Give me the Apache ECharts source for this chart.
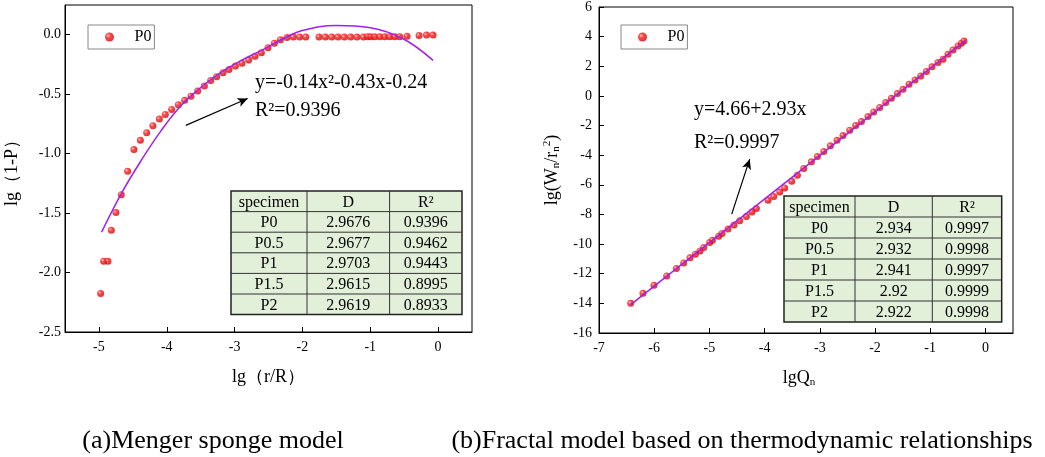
<!DOCTYPE html>
<html>
<head>
<meta charset="utf-8">
<script src="https://cdn.jsdelivr.net/npm/echarts@6/dist/echarts.min.js"></script>
<style>
html,body{margin:0;padding:0;background:#fff}
#chart{width:1045px;height:457px}
</style>
</head>
<body>
<div id="chart"></div>
<script>
// (a) Menger sponge model: lg(r/R) vs lg(1-P)
var menX = [-4.975,-4.93,-4.867,-4.817,-4.749,-4.670,-4.577,-4.484,-4.389,-4.296,-4.204,-4.109,-4.021,-3.928,-3.829,-3.736,-3.643,-3.544,-3.445,-3.352,-3.264,-3.171,-3.083,-2.988,-2.891,-2.792,-2.699,-2.605,-2.507,-2.413,-2.324,-2.227,-2.133,-2.04,-1.95,
  -1.755,-1.661,-1.568,-1.475,-1.381,-1.288,-1.195,-1.100,-1.037,-0.993,-0.934,-0.860,-0.786,-0.713,-0.639,-0.565,-0.457,-0.280,-0.171,-0.074];
var menY = [-2.176,-1.905,-1.905,-1.645,-1.496,-1.345,-1.149,-0.966,-0.888,-0.824,-0.765,-0.709,-0.670,-0.628,-0.588,-0.552,-0.518,-0.474,-0.432,-0.384,-0.353,-0.319,-0.292,-0.264,-0.239,-0.213,-0.180,-0.151,-0.109,-0.071,-0.042,-0.023,-0.020,-0.020,-0.020,
  -0.020,-0.020,-0.020,-0.020,-0.020,-0.020,-0.020,-0.020,-0.017,-0.017,-0.017,-0.017,-0.017,-0.017,-0.017,-0.017,-0.012,-0.006,-0.003,-0.003];
// fitted curve
var menFitX = [-4.96,-4.67,-4.375,-4.08,-3.785,-3.49,-3.195,-2.90,-2.605,-2.31,-2.0,-1.5,-1.0,-0.516,-0.074];
var menFitY = [-1.66,-1.336,-1.056,-0.804,-0.594,-0.44,-0.314,-0.216,-0.132,-0.040,0.036,0.078,0.059,-0.034,-0.216];

// (b) thermodynamic fractal model: lgQn vs lg(Wn/rn^2)
var thX = [-6.426,-6.203,-6.004,-5.774,-5.598,-5.466,-5.351,-5.254,-5.170,-5.103,-4.995,-4.946,-4.832,-4.772,-4.663,-4.554,-4.451,-4.330,-4.228,-4.149,
  -3.938,-3.835,-3.726,-3.636,-3.509,-3.406,-3.291,-3.152,-3.043,-2.929,-2.808,-2.688,-2.580,-2.458,-2.350,-2.246,-2.127,-2.024,-1.915,-1.806,
  -1.703,-1.594,-1.493,-1.384,-1.275,-1.172,-1.069,-0.967,-0.859,-0.768,-0.678,-0.587,-0.496,-0.435,-0.388];
var thY = [-14.0,-13.31,-12.77,-12.15,-11.65,-11.27,-10.93,-10.68,-10.46,-10.23,-9.89,-9.74,-9.47,-9.28,-8.99,-8.72,-8.43,-8.14,-7.83,-7.60,
  -7.04,-6.79,-6.48,-6.21,-5.76,-5.35,-4.90,-4.45,-4.09,-3.75,-3.37,-2.99,-2.67,-2.31,-2.00,-1.73,-1.39,-1.08,-0.78,-0.45,
  -0.16,0.16,0.45,0.79,1.08,1.35,1.65,1.96,2.25,2.48,2.81,3.10,3.37,3.56,3.71];
var thFitX = [-6.43,-0.36];
var thFitY = [-14.1,3.75];

// tick values
var menXTicks = [-5,-4,-3,-2,-1,0];
var menYTicks = [-2.5,-2,-1.5,-1,-0.5,0];
var thXTicks = [-7,-6,-5,-4,-3,-2,-1,0];

// tables
var tableHeader = ['specimen','D','R²'];
var specimens = ['P0','P0.5','P1','P1.5','P2'];
var menD = ['2.9676','2.9677','2.9703','2.9615','2.9619'];
var menR2 = ['0.9396','0.9462','0.9443','0.8995','0.8933'];
var thD = ['2.934','2.932','2.941','2.92','2.922'];
var thR2 = ['0.9997','0.9998','0.9997','0.9999','0.9998'];

// arrow ends (tail, head) in data units
var menArrow = [[-3.72,-0.762],[-2.807,-0.536]];
var thArrow = [[-4.596,-7.98],[-4.27,-4.27]];

var serif = '"Liberation Serif", "Times New Roman", serif';
var ball = {type:'radial', x:0.35, y:0.35, r:0.75, colorStops:[
  {offset:0, color:'#ffd0d0'}, {offset:0.3, color:'#ff2020'}, {offset:1, color:'#c40000'}]};
var purple = '#a020f0';

function pairs(xs, ys){
  var out = [];
  for (var i = 0; i < xs.length; i++) out.push([xs[i], ys[i]]);
  return out;
}

function tableGraphic(x0, y0, widths, rowH, header, cols){
  var els = [];
  var n = cols[0].length + 1;
  var totalW = widths.reduce(function(a,b){return a+b;}, 0);
  els.push({type:'rect', shape:{x:x0, y:y0, width:totalW, height:rowH*n},
    style:{fill:'#e2efd9', stroke:'#222', lineWidth:1.5}, z:10});
  for (var r = 1; r < n; r++) {
    els.push({type:'line', shape:{x1:x0, y1:y0+r*rowH, x2:x0+totalW, y2:y0+r*rowH},
      style:{stroke:'#333', lineWidth:1}, z:11});
  }
  var cx = x0;
  for (var c = 0; c < widths.length; c++) {
    if (c > 0) {
      els.push({type:'line', shape:{x1:cx, y1:y0, x2:cx, y2:y0+rowH*n},
        style:{stroke:'#333', lineWidth:1}, z:11});
    }
    for (var k = 0; k < n; k++) {
      var t = k === 0 ? header[c] : cols[c][k-1];
      els.push({type:'text', x:cx+widths[c]/2, y:y0+k*rowH+rowH/2+1, z:12,
        style:{text:t, font:'16px ' + serif, fill:'#000', align:'center', verticalAlign:'middle'}});
    }
    cx += widths[c];
  }
  return els;
}

function label(text, x, y, size, align){
  return {type:'text', x:x, y:y, z:12,
    style:{text:text, font:size + 'px ' + serif, fill:'#000', align:align || 'left', verticalAlign:'middle'}};
}

function arrowLine(a){
  return {
    silent:true,
    symbol:['none','arrow'],
    symbolSize:[7,10],
    label:{show:false},
    lineStyle:{color:'#000', width:1.2, type:'solid'},
    emphasis:{disabled:true},
    data:[[{coord:a[0]}, {coord:a[1]}]]
  };
}

function legendAt(left){
  return {data:['P0'], left:left, top:25, orient:'horizontal', padding:[4,3,4,17], itemWidth:24, itemHeight:9,
    borderColor:'#888', borderWidth:1, icon:'circle', selectedMode:false,
    textStyle:{fontFamily:serif, fontSize:16, color:'#000', padding:[0,0,0,8]}};
}

var axisCommon = {
  axisLine:{onZero:false, lineStyle:{color:'#000', width:1}},
  splitLine:{show:false}
};
var tickFont = 14;

var chart = echarts.init(document.getElementById('chart'));
var option = {
  animation:false,
  textStyle:{fontFamily:serif, color:'#000'},
  grid:[
    {left:65, top:5, width:407, height:327, show:true, borderColor:'#000', borderWidth:1},
    {left:599, top:7, width:414, height:326, show:true, borderColor:'#000', borderWidth:1}
  ],
  legend:[legendAt(88), legendAt(621)],
  xAxis:[
    Object.assign({}, axisCommon, {
      gridIndex:0, type:'value', min:-5.5, max:0.5,
      name:'lg（r/R）', nameLocation:'middle', nameGap:36,
      nameTextStyle:{fontFamily:serif, fontSize:18, color:'#000'},
      axisTick:{inside:true, length:5, customValues:menXTicks, lineStyle:{color:'#000'}},
      axisLabel:{customValues:menXTicks, fontFamily:serif, fontSize:tickFont, color:'#000', margin:8}
    }),
    Object.assign({}, axisCommon, {
      gridIndex:1, type:'value', min:-7, max:0.5,
      name:'lgQ{sub|n}', nameLocation:'middle', nameGap:35,
      nameTextStyle:{fontFamily:serif, fontSize:18, color:'#000', padding:[0,14,0,0],
        rich:{sub:{fontFamily:serif, fontSize:11, color:'#000', padding:[9,0,0,0]}}},
      axisTick:{inside:true, length:5, customValues:thXTicks, lineStyle:{color:'#000'}},
      axisLabel:{customValues:thXTicks, fontFamily:serif, fontSize:tickFont, color:'#000', margin:8}
    })
  ],
  yAxis:[
    Object.assign({}, axisCommon, {
      gridIndex:0, type:'value', min:-2.5, max:0.25,
      name:'lg（1-P）', nameLocation:'middle', nameGap:44,
      nameTextStyle:{fontFamily:serif, fontSize:18, color:'#000'},
      axisTick:{inside:true, length:5, customValues:menYTicks, lineStyle:{color:'#000'}},
      axisLabel:{customValues:menYTicks, fontFamily:serif, fontSize:tickFont, color:'#000', margin:4,
        formatter:function(v){return v.toFixed(1);}}
    }),
    Object.assign({}, axisCommon, {
      gridIndex:1, type:'value', min:-16, max:6, interval:2,
      name:'lg(W{sub|n}/r{sub|n}{sup|2})', nameLocation:'middle', nameGap:37,
      nameTextStyle:{fontFamily:serif, fontSize:18, color:'#000',
        rich:{sub:{fontFamily:serif, fontSize:11, color:'#000', padding:[9,0,0,0]},
              sup:{fontFamily:serif, fontSize:11, color:'#000', padding:[0,0,9,0]}}},
      axisTick:{inside:true, length:5, lineStyle:{color:'#000'}},
      axisLabel:{fontFamily:serif, fontSize:tickFont, color:'#000', margin:7}
    })
  ],
  series:[
    {name:'P0', type:'scatter', xAxisIndex:0, yAxisIndex:0, symbolSize:7,
      itemStyle:{color:ball}, data:pairs(menX, menY), z:3},
    {name:'fitA', type:'line', xAxisIndex:0, yAxisIndex:0, smooth:0.4, showSymbol:false,
      lineStyle:{color:purple, width:1.5}, data:pairs(menFitX, menFitY), z:4,
      markLine:arrowLine(menArrow)},
    {name:'P0', type:'scatter', xAxisIndex:1, yAxisIndex:1, symbolSize:7,
      itemStyle:{color:ball}, data:pairs(thX, thY), z:3},
    {name:'fitB', type:'line', xAxisIndex:1, yAxisIndex:1, showSymbol:false,
      lineStyle:{color:purple, width:1.5}, data:pairs(thFitX, thFitY), z:4,
      markLine:arrowLine(thArrow)}
  ],
  graphic:[].concat(
    tableGraphic(231, 191, [76, 82.6, 72.4], 20.6, tableHeader, [specimens, menD, menR2]),
    tableGraphic(784, 196, [71, 77.3, 69.4], 21, tableHeader, [specimens, thD, thR2]),
    [
      label('y=-0.14x²-0.43x-0.24', 255, 83, 20),
      label('R²=0.9396', 255, 111, 20),
      label('y=4.66+2.93x', 694, 110, 20),
      label('R²=0.9997', 694, 143, 20),
      label('(a)Menger sponge model', 213, 441, 26, 'center'),
      label('(b)Fractal model based on thermodynamic relationships', 742, 441, 26, 'center')
    ]
  )
};
chart.setOption(option);
</script>
</body>
</html>
